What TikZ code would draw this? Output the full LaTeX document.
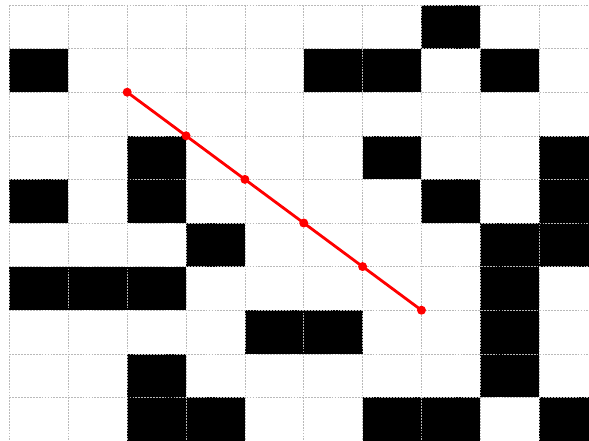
\documentclass[tikz,border=0pt]{standalone}

\begin{document}
\begin{tikzpicture}[x=1.7655cm,y=-1.308cm,
  cell/.style={fill=black},
  gridline/.style={gray!55,line width=0.45pt,dash pattern=on 1.5pt off 1pt},
  dot/.style={circle,fill=red,inner sep=0pt,minimum size=0.27cm}]
\useasboundingbox (-0.1614,-0.1147) rectangle (9.847,10);
\clip (-0.1614,-0.1147) rectangle (9.847,10);
% occupied cells (column, row)
\foreach \c/\r in {7/0, 0/1,5/1,6/1,8/1, 2/3,6/3,9/3, 0/4,2/4,7/4,9/4,
  3/5,8/5,9/5, 0/6,1/6,2/6,8/6, 4/7,5/7,8/7, 2/8,8/8, 2/9,3/9,6/9,7/9,9/9}
  \fill[cell] (\c,\r) rectangle ++(1,1);
% grid
\foreach \i in {0,...,10} {
  \draw[gridline] (\i,0) -- (\i,10);
  \draw[gridline] (0,\i) -- (10,\i);
}
% path through grid points
\foreach \k in {0,...,5}
  \coordinate (p\k) at (2+\k,2+\k);
\draw[red,line width=2.4pt] (p0) -- (p5);
\foreach \k in {0,...,5}
  \node[dot] (d\k) at (p\k) {};
\end{tikzpicture}
\end{document}
